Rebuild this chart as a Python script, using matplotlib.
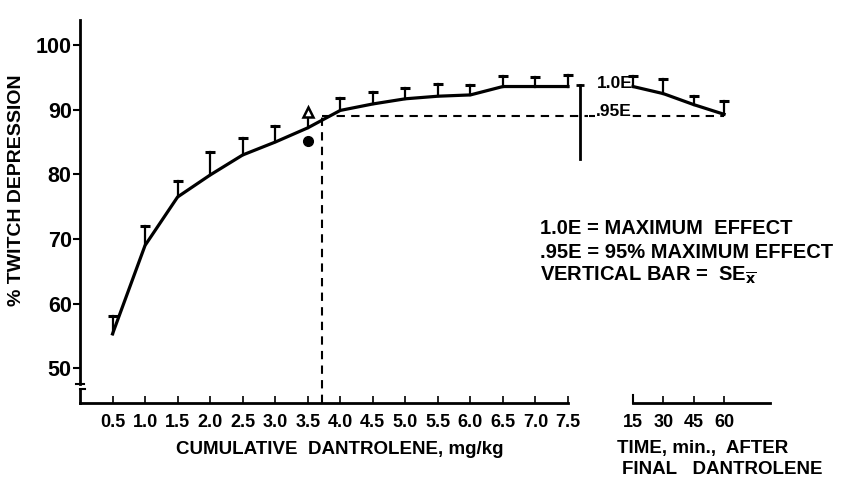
import numpy as np
import matplotlib.pyplot as plt

plt.rcParams['font.family'] = ['Liberation Sans', 'DejaVu Sans']

# --- data ---
dose = [0.5, 1.0, 1.5, 2.0, 2.5, 3.0, 3.5, 4.0, 4.5, 5.0, 5.5, 6.0, 6.5, 7.0, 7.5]
dose_mean = [55.3, 69.0, 76.5, 79.9, 83.0, 85.0, 87.2, 89.9, 90.9, 91.7, 92.1, 92.3, 93.6, 93.6, 93.6]
dose_top = [58.0, 72.0, 79.0, 83.4, 85.6, 87.5, None, 91.9, 92.8, 93.3, 94.0, 93.8, 95.3, 95.1, 95.4]
dose_labels = ['0.5', '1.0', '1.5', '2.0', '2.5', '3.0', '3.5', '4.0', '4.5', '5.0',
               '5.5', '6.0', '6.5', '7.0', '7.5']

time_min = [15, 30, 45, 60]
time_mean = [93.6, 92.5, 90.8, 89.3]
time_top = [95.3, 94.7, 92.2, 91.4]

# single points at 3.5 mg/kg
tri_x, tri_y = 3.5, 89.6
dot_x, dot_y = 3.5, 85.2

e95 = 89.0          # 0.95 of maximum effect
e95_dose = 3.72     # dose reaching .95E
sep_bar = (7.68, 82.4, 93.9)

W, H = 843, 488
fig = plt.figure(figsize=(W / 100, H / 100), dpi=100)
y_lo, y_hi = 44.6, 103.9
ax_bottom, ax_top = 403, 20


def fx(px):
    return px / W


def fy(py):
    return 1 - py / H


ax = fig.add_axes([fx(80), fy(ax_bottom), fx(568 - 80), (ax_bottom - ax_top) / H])
ax.set_xlim(0, 7.5)
ax.set_ylim(y_lo, y_hi)
ax.patch.set_alpha(0)
for s in ['top', 'right']:
    ax.spines[s].set_visible(False)
ax.spines['left'].set_bounds(47.6, y_hi)
ax.spines['left'].set_linewidth(2)
ax.spines['bottom'].set_linewidth(2)
ax.spines['bottom'].set_bounds(0, 7.5)

# y axis break
ax.plot([0, 0], [y_lo, 46.8], color='k', lw=2, clip_on=False)
ax.plot([-0.06, 0.06], [47.6, 47.6], color='k', lw=1.5, clip_on=False)
ax.plot([0, 0.08], [46.8, 46.8], color='k', lw=1.5, clip_on=False)

ax.set_yticks([50, 60, 70, 80, 90, 100])
ax.tick_params(axis='y', direction='out', length=5, width=1.5, labelsize=15.5, pad=1)
ax.set_xticks(dose)
ax.set_xticklabels(dose_labels)
ax.tick_params(axis='x', direction='in', length=5, width=1.2, labelsize=13, pad=8)
for lab in ax.get_yticklabels() + ax.get_xticklabels():
    lab.set_fontweight('bold')

ax.set_ylabel('% TWITCH DEPRESSION', fontsize=14, fontweight='bold')
ax.yaxis.set_label_coords(-0.112, 0.556)
ax.set_xlabel('CUMULATIVE  DANTROLENE, mg/kg', fontsize=13.5, fontweight='bold')
ax.xaxis.set_label_coords(0.533, -0.10)

# main curve + upward SE bars
ax.plot(dose, dose_mean, color='k', lw=2.3, clip_on=False, zorder=3)
for x, m, t in zip(dose, dose_mean, dose_top):
    if t is None:
        continue
    ax.plot([x, x], [m, t], color='k', lw=1.6, clip_on=False)
    ax.plot([x], [t], marker='_', ms=7, mew=2.2, color='k', clip_on=False)

ax.plot([tri_x, tri_x], [dose_mean[6], tri_y - 0.6], color='k', lw=1.6)
ax.plot([tri_x], [tri_y], marker='^', ms=7, mfc='white', mec='k', mew=1.8)
ax.plot([dot_x], [dot_y], marker='o', ms=7, color='k')

# .95E dashed guide lines
ax.plot([e95_dose, e95_dose], [y_lo, e95], color='k', lw=1.5, ls=(0, (4, 3)), clip_on=False)
ax.plot([e95_dose, 7.8], [e95, e95], color='k', lw=1.5, ls=(0, (4, 3)), clip_on=False)

# separating vertical bar
ax.plot([sep_bar[0], sep_bar[0]], [sep_bar[1], sep_bar[2]], color='k', lw=2, clip_on=False)
ax.plot([sep_bar[0]], [sep_bar[2]], marker='_', ms=6, mew=2, color='k', clip_on=False)

# --- time panel ---
ax2 = fig.add_axes([fx(633), fy(ax_bottom), fx(770 - 633), (ax_bottom - ax_top) / H])
ax2.set_xlim(15, 82.7)
ax2.set_ylim(y_lo, y_hi)
ax2.patch.set_alpha(0)
for s in ['top', 'right', 'left']:
    ax2.spines[s].set_visible(False)
ax2.spines['bottom'].set_linewidth(2)
ax2.set_yticks([])
ax2.set_xticks(time_min)
ax2.tick_params(axis='x', direction='in', length=5, width=1.2, labelsize=13, pad=8)
for lab in ax2.get_xticklabels():
    lab.set_fontweight('bold')
ax2.plot([15, 15], [y_lo, y_lo + 1.3], color='k', lw=1.5, clip_on=False)

ax2.plot(time_min, time_mean, color='k', lw=2.3, clip_on=False, zorder=3)
for x, m, t in zip(time_min, time_mean, time_top):
    ax2.plot([x, x], [m, t], color='k', lw=1.6, clip_on=False)
    ax2.plot([x], [t], marker='_', ms=7, mew=2.2, color='k', clip_on=False)
ax2.plot([-6.5, 60], [e95, e95], color='k', lw=1.5, ls=(0, (4, 3)), clip_on=False)

fig.text(fx(703), fy(448), 'TIME, min.,  AFTER', fontsize=13.5, fontweight='bold',
         ha='center', va='center')
fig.text(fx(822), fy(470), 'FINAL   DANTROLENE', fontsize=13.5, fontweight='bold',
         ha='right', va='center')

# labels on the plot
fig.text(fx(597), fy(84), '1.0E', fontsize=12.5, fontweight='bold', ha='left', va='center')
fig.text(fx(596), fy(112), '.95E', fontsize=12.5, fontweight='bold', ha='left', va='center',
         bbox=dict(facecolor='white', edgecolor='none', pad=0.5))

legend_lines = ['1.0E = MAXIMUM  EFFECT',
                '.95E = 95% MAXIMUM EFFECT',
                r'VERTICAL BAR =  SE$_{\overline{\mathbf{x}}}$']
for i, txt in enumerate(legend_lines):
    fig.text(fx(540), fy(228 + 24 * i), txt, fontsize=14.5, fontweight='bold',
             ha='left', va='center')

fig.savefig('out.png', dpi=100)
